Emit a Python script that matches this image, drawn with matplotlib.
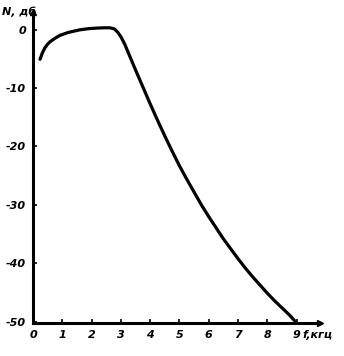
import matplotlib
matplotlib.use("Agg")
import matplotlib.pyplot as plt

freq_khz = [0.24, 0.32, 0.41, 0.5, 0.58, 0.75, 0.92, 1.2, 1.6, 1.9, 2.18, 2.45, 2.63, 2.78, 2.9,
            3.02, 3.14, 3.24, 3.35, 3.5, 3.75, 4.0, 4.25, 4.5, 4.75, 5.0, 5.25, 5.5, 5.75, 6.0,
            6.25, 6.5, 6.75, 7.0, 7.25, 7.5, 7.75, 8.0, 8.25, 8.5, 8.75, 8.97]
level_db = [-5.1, -4.0, -3.1, -2.5, -2.1, -1.5, -1.0, -0.5, -0.05, 0.15, 0.25, 0.3, 0.3, 0.1, -0.5,
            -1.4, -2.6, -3.8, -5.1, -6.9, -9.8, -12.7, -15.5, -18.2, -20.8, -23.3, -25.6, -27.8, -30.0, -32.0,
            -33.9, -35.8, -37.5, -39.2, -40.8, -42.3, -43.7, -45.1, -46.4, -47.6, -48.8, -50.0]

x_ticks = [0, 1, 2, 3, 4, 5, 6, 7, 8, 9]
y_ticks = [0, -10, -20, -30, -40, -50]

fig = plt.figure(figsize=(3.44, 3.56), dpi=100)
ax = fig.add_axes([33/344, 33/356, 287/344, 311/356])

ax.plot(freq_khz, level_db, color="black", lw=2.3, solid_capstyle="round",
        solid_joinstyle="round")

ax.set_xlim(0, 9.8)
ax.set_ylim(-50.2, 3.0)
for s in ["top", "right"]:
    ax.spines[s].set_visible(False)
for s in ["left", "bottom"]:
    ax.spines[s].set_linewidth(2.2)

fp = dict(family="DejaVu Sans", weight="bold", style="italic", size=8)
ax.set_xticks(x_ticks)
ax.set_xticklabels([str(t) for t in x_ticks], fontdict=fp)
ax.set_yticks(y_ticks)
ax.set_yticklabels([str(t) for t in y_ticks], fontdict=fp)
ax.tick_params(direction="in", length=3, width=1.2, pad=5)

# arrow heads at axis ends
ax.plot(1, 0, ">k", transform=ax.transAxes, clip_on=False, ms=4)
ax.plot(0, 1, "^k", transform=ax.transAxes, clip_on=False, ms=4)

fig.text(302/344, 1 - 335/356, "f,кгц", ha="left", va="center",
         family="DejaVu Sans", weight="bold", style="italic", size=8)
fig.text(2/344, 1 - 12/356, "N, дб", ha="left", va="center",
         family="DejaVu Sans", weight="bold", style="italic", size=8)

fig.savefig("out.png", dpi=100, facecolor="white")
